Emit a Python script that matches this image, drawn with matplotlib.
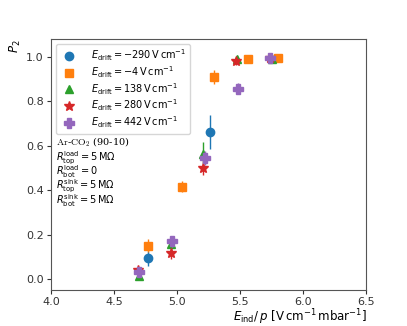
import matplotlib
matplotlib.use('Agg')
import matplotlib.pyplot as plt

plt.rcParams['font.size'] = 8
plt.rcParams['mathtext.fontset'] = 'dejavusans'

FIELDS = [-290, -4, 138, 280, 442]
MARKERS = ['o', 's', '^', '*', 'P']
COLORS = ['#1f77b4', '#ff7f0e', '#2ca02c', '#d62728', '#9467bd']

# E_ind / p  and  P2
X_M290 = [4.77, 5.26]
Y_M290 = [0.093, 0.662]
E_M290 = [0.035, 0.075]

X_M4 = [4.77, 5.04, 5.29, 5.56, 5.80]
Y_M4 = [0.150, 0.415, 0.910, 0.990, 0.997]
E_M4 = [0.030, 0.025, 0.030, 0.015, 0.015]

X_138 = [4.695, 4.95, 5.205, 5.475, 5.75]
Y_138 = [0.015, 0.157, 0.565, 0.990, 0.990]
E_138 = [0.015, 0.025, 0.050, 0.015, 0.010]

X_280 = [4.69, 4.95, 5.205, 5.47, 5.74]
Y_280 = [0.040, 0.115, 0.500, 0.980, 0.995]
E_280 = [0.015, 0.025, 0.030, 0.015, 0.010]

X_442 = [4.695, 4.96, 5.22, 5.48, 5.735]
Y_442 = [0.033, 0.170, 0.545, 0.857, 0.997]
E_442 = [0.015, 0.025, 0.030, 0.025, 0.015]

SERIES = [(X_M290, Y_M290, E_M290), (X_M4, Y_M4, E_M4), (X_138, Y_138, E_138),
          (X_280, Y_280, E_280), (X_442, Y_442, E_442)]

fig, ax = plt.subplots(figsize=(4.07, 3.26), dpi=100)

for (x, y, e), field, mk, col in zip(SERIES, FIELDS, MARKERS, COLORS):
    sign = '-' if field < 0 else ''
    label = (r'$E_\mathrm{drift} = ' + sign + f'{abs(field)}'
             + r'\,\mathrm{V\,cm^{-1}}$')
    ms = {'o': 6, 's': 6, '^': 6, '*': 7.5, 'P': 7}[mk]
    ax.errorbar(x, y, yerr=e, fmt='none', ecolor=col, elinewidth=1.0,
                capsize=0)
    ax.plot(x, y, mk, color=col, ms=ms, ls='none', label=label)

ax.set_xlim(4.0, 6.5)
ax.set_ylim(-0.05, 1.08)
ax.set_xticks([4.0, 4.5, 5.0, 5.5, 6.0, 6.5])
ax.set_yticks([0.0, 0.2, 0.4, 0.6, 0.8, 1.0])

ax.set_xlabel(r'$E_\mathrm{ind}/\,p\ [\mathrm{V\,cm^{-1}\,mbar^{-1}}]$',
              loc='right', fontsize=8.5, labelpad=0)
ax.set_ylabel(r'$P_2$', loc='top', fontsize=8.5, labelpad=2)

for sp in ax.spines.values():
    sp.set_color('#555555')
ax.tick_params(colors='#333333', labelsize=8, length=3, pad=2)

ax.legend(loc='upper left', fontsize=7, handletextpad=1.2,
          borderaxespad=0.5, labelspacing=0.1, borderpad=0.4)

ax.text(0.015, 0.615, r'$\mathrm{Ar}$-$\mathrm{CO_2}$ (90-10)',
        transform=ax.transAxes, fontsize=7, va='top', math_fontfamily='cm',
        family='DejaVu Serif')
notes = [r'$R^\mathrm{load}_\mathrm{top} = 5\,\mathrm{M\Omega}$',
         r'$R^\mathrm{load}_\mathrm{bot} = 0$',
         r'$R^\mathrm{sink}_\mathrm{top} = 5\,\mathrm{M\Omega}$',
         r'$R^\mathrm{sink}_\mathrm{bot} = 5\,\mathrm{M\Omega}$']
for i, t in enumerate(notes):
    ax.text(0.015, 0.56 - i * 0.056, t, transform=ax.transAxes,
            fontsize=7, va='top')

fig.savefig('out.png', dpi=100)
